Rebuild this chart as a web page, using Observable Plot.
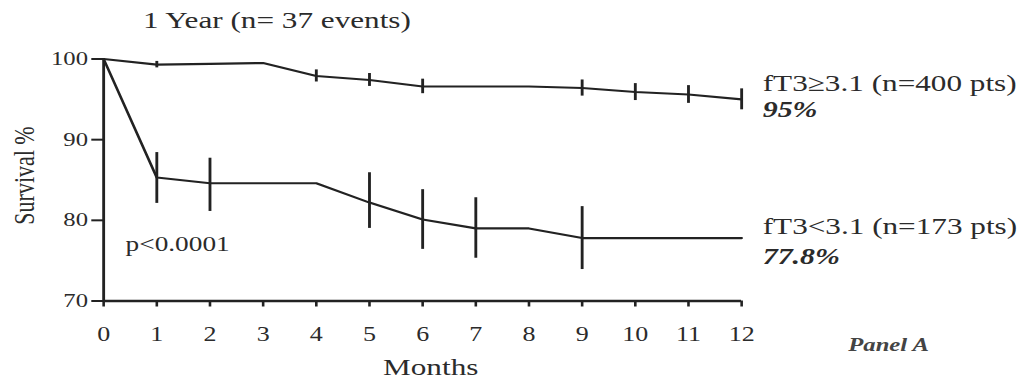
<!DOCTYPE html>
<html>
<head>
<meta charset="utf-8">
<script src="https://cdn.jsdelivr.net/npm/d3@7"></script>
<script src="https://cdn.jsdelivr.net/npm/@observablehq/plot@0.6"></script>
<style>
  body { margin: 0; background: #fff; }
  #chart svg { display: block; }
</style>
</head>
<body>
<div id="chart"></div>
<script>
// ---- data ----
const months = [0, 1, 2, 3, 4, 5, 6, 7, 8, 9, 10, 11, 12];
const highSurvival = [100, 99.3, 99.4, 99.5, 97.9, 97.4, 96.6, 96.6, 96.6, 96.4, 95.9, 95.6, 95.0];
const lowSurvival  = [100, 85.3, 84.6, 84.6, 84.6, 82.2, 80.1, 79.0, 79.0, 77.8, 77.8, 77.8, 77.8];

const highBarMonths = [1, 4, 5, 6, 9, 10, 11, 12];
const highBarLo = [98.9, 97.15, 96.6, 95.7, 95.4, 94.85, 94.5, 93.7];
const highBarHi = [99.7, 98.65, 98.2, 97.5, 97.4, 96.95, 96.7, 96.3];

const lowBarMonths = [1, 2, 5, 6, 7, 9];
const lowBarLo = [82.1, 81.1, 79.0, 76.4, 75.3, 73.9];
const lowBarHi = [88.4, 87.7, 85.9, 83.8, 82.8, 81.7];

const xTicks = months;
const yTicks = [70, 80, 90, 100];

const seriesLabels = ["fT3\u22653.1 (n=400 pts)", "fT3<3.1 (n=173 pts)"];
const seriesFinal = ["95%", "77.8%"];
const titleText = "1 Year (n= 37 events)";
const pText = "p<0.0001";
const xLabel = "Months";
const yLabel = "Survival %";
const panelText = "Panel A";

// ---- build tables ----
const lineData = [
  ...months.map((m, i) => ({month: m, value: highSurvival[i], group: "high"})),
  ...months.map((m, i) => ({month: m, value: lowSurvival[i], group: "low"}))
];
const barData = [
  ...highBarMonths.map((m, i) => ({month: m, lo: highBarLo[i], hi: highBarHi[i]})),
  ...lowBarMonths.map((m, i) => ({month: m, lo: lowBarLo[i], hi: lowBarHi[i]}))
];
const lastIdx = months.length - 1;
const endHigh = [{month: months[lastIdx], value: highSurvival[lastIdx]}];
const endLow = [{month: months[lastIdx], value: lowSurvival[lastIdx]}];

// the reference is horizontally stretched; draw at a narrower width, then stretch
const SX = 1.3;
const W = 1021 / SX;
const H = 381;
const ink = "#222";
const txt = "#2b2b2b";
const font = "Liberation Serif, Times New Roman, serif";

const svg = Plot.plot({
  width: W,
  height: H,
  marginLeft: 103 / SX,
  marginRight: W - 741 / SX,
  marginTop: 58.5,
  marginBottom: 80.5,
  style: {fontFamily: font, background: "#fff", color: txt},
  x: {domain: [0, 12]},
  y: {domain: [70, 100]},
  marks: [
    // axes
    Plot.axisX({ticks: xTicks, tickSize: 6, tickPadding: 20, fontSize: 20, label: null, stroke: ink, strokeWidth: 2, fill: txt}),
    Plot.axisY({ticks: yTicks, tickSize: 9, tickPadding: 3, fontSize: 19, label: null, stroke: ink, strokeWidth: 2, fill: txt}),
    Plot.ruleY([70], {stroke: ink, strokeWidth: 2.6}),
    Plot.ruleX([0], {y1: 70, y2: 100, stroke: ink, strokeWidth: 2.2}),
    // curves
    Plot.line(lineData, {x: "month", y: "value", z: "group", stroke: ink, strokeWidth: 2.1, curve: "linear"}),
    Plot.ruleX(barData, {x: "month", y1: "lo", y2: "hi", stroke: ink, strokeWidth: 2.2}),
    // labels
    Plot.text(endHigh, {x: "month", y: "value", text: () => seriesLabels[0], textAnchor: "start", lineAnchor: "middle", dx: 16.2, dy: -16.5, fontSize: 24, fill: txt}),
    Plot.text(endHigh, {x: "month", y: "value", text: () => seriesFinal[0], textAnchor: "start", lineAnchor: "middle", dx: 16.2, dy: 10.5, fontSize: 23, fontWeight: "bold", fontStyle: "italic", fill: txt}),
    Plot.text(endLow, {x: "month", y: "value", text: () => seriesLabels[1], textAnchor: "start", lineAnchor: "middle", dx: 16.2, dy: -11.8, fontSize: 24, fill: txt}),
    Plot.text(endLow, {x: "month", y: "value", text: () => seriesFinal[1], textAnchor: "start", lineAnchor: "middle", dx: 16.2, dy: 18.5, fontSize: 23, fontWeight: "bold", fontStyle: "italic", fill: txt}),
    Plot.text([titleText], {frameAnchor: "top-left", textAnchor: "start", lineAnchor: "middle", dx: 30.2, dy: -38.2, fontSize: 24, fill: txt}),
    Plot.text([pText], {frameAnchor: "bottom-left", textAnchor: "start", lineAnchor: "middle", dx: 16.9, dy: -56.5, fontSize: 21, fill: txt}),
    Plot.text([xLabel], {frameAnchor: "bottom", textAnchor: "middle", lineAnchor: "middle", dx: 6.2, dy: 66, fontSize: 24, fill: txt}),
    Plot.text([yLabel], {frameAnchor: "left", textAnchor: "middle", lineAnchor: "middle", rotate: -90, dx: -60.7, dy: -4.5, fontSize: 22, fill: txt}),
    Plot.text([panelText], {frameAnchor: "bottom-right", textAnchor: "middle", lineAnchor: "middle", dx: 113, dy: 43.5, fontSize: 19, fontWeight: "bold", fontStyle: "italic", fill: "#444"})
  ]
});

svg.setAttribute("width", 1021);
svg.setAttribute("height", H);
svg.setAttribute("preserveAspectRatio", "none");
svg.style.width = "1021px";
svg.style.height = H + "px";
svg.style.maxWidth = "none";
document.getElementById("chart").appendChild(svg);
</script>
</body>
</html>
